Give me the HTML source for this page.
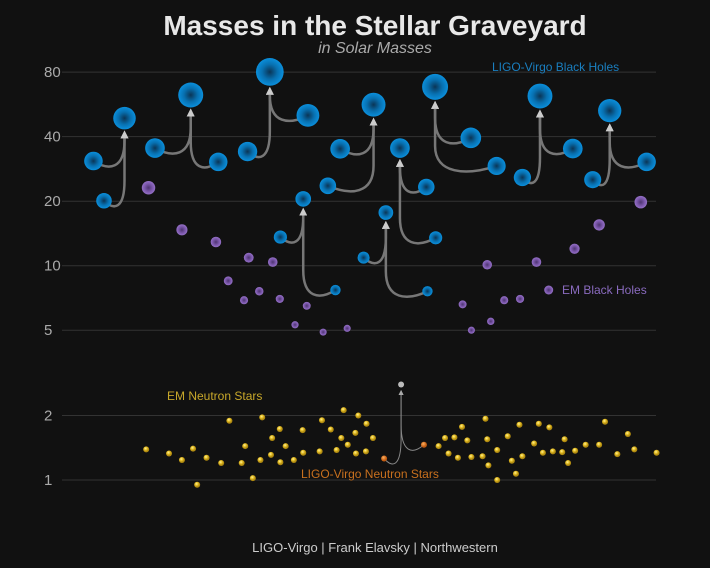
<!DOCTYPE html>
<html><head><meta charset="utf-8"><style>
html,body{margin:0;padding:0;background:#111;}
svg{display:block;font-family:"Liberation Sans",sans-serif;}
</style></head><body>
<svg id="chart" width="710" height="568" viewBox="0 0 710 568">
<defs>
<radialGradient id="gBlue"><stop offset="0" stop-color="#0a3556"/><stop offset="0.55" stop-color="#0870b0"/><stop offset="1" stop-color="#0a8fdc"/></radialGradient>
<radialGradient id="gPurple"><stop offset="0" stop-color="#4d3470"/><stop offset="0.6" stop-color="#7c58ac"/><stop offset="1" stop-color="#9470c6"/></radialGradient>
<radialGradient id="gGold" cx="0.4" cy="0.35"><stop offset="0" stop-color="#fff3a0"/><stop offset="0.5" stop-color="#e8c22a"/><stop offset="1" stop-color="#b08a10"/></radialGradient>
<radialGradient id="gOrange" cx="0.4" cy="0.35"><stop offset="0" stop-color="#ffb060"/><stop offset="1" stop-color="#c05a10"/></radialGradient>
<marker id="arr" markerWidth="8" markerHeight="8" refX="4" refY="4" orient="auto" markerUnits="userSpaceOnUse"><path d="M0,0 L8,4 L0,8 z" fill="#ccc"/></marker>
<marker id="arrS" markerWidth="5" markerHeight="5" refX="2.5" refY="2.5" orient="auto" markerUnits="userSpaceOnUse"><path d="M0,0 L5,2.5 L0,5 z" fill="#aaa"/></marker>
</defs>
<text x="375" y="35" text-anchor="middle" font-size="28" font-weight="bold" fill="#e8e8e8">Masses in the Stellar Graveyard</text>
<text x="375" y="53" text-anchor="middle" font-size="16" font-style="italic" fill="#aaa">in Solar Masses</text>
<g id="grid"></g>
<g id="links"></g>
<g id="marks"></g>
<text x="492" y="71" font-size="12" fill="#1a7fc0">LIGO-Virgo Black Holes</text>
<text x="562" y="294" font-size="12" fill="#8a6bbf">EM Black Holes</text>
<text x="167" y="400" font-size="12" fill="#c8a82a">EM Neutron Stars</text>
<text x="301" y="478" font-size="12" fill="#c8701e">LIGO-Virgo Neutron Stars</text>
<text x="375" y="552" text-anchor="middle" font-size="13" fill="#ccc">LIGO-Virgo | Frank Elavsky | Northwestern</text>
</svg>
<script>
const yTicks = [1, 2, 5, 10, 20, 40, 80];
// LIGO-Virgo black hole mergers: [x, mass] for source1, source2, final
const bhS1X = [4.0, 14.5, 30.3, 46.1, 60.8, 68.4, 77.2, 89.2, 35.9, 50.1];
const bhS1M = [30.8, 35.4, 34.1, 35.1, 23.3, 39.5, 25.8, 25.2, 13.6, 10.9];
const bhS2X = [5.8, 25.3, 40.6, 44.0, 62.4, 72.8, 85.8, 98.4, 45.3, 61.0];
const bhS2M = [20.1, 30.5, 50.3, 23.6, 13.5, 29.2, 35.2, 30.5, 7.7, 7.6];
const bhFX = [9.3, 20.6, 34.1, 51.8, 56.3, 62.3, 80.2, 92.1, 39.8, 53.9];
const bhFM = [48.8, 62.6, 80.2, 56.4, 35.4, 68.3, 61.9, 52.9, 20.5, 17.7];
// EM black holes
const embhX = [13.4, 19.1, 24.9, 30.5, 34.6, 27.0, 32.3, 29.7, 35.8, 40.4, 38.4, 43.2, 47.3, 67.0, 68.5, 71.8, 71.2, 74.1, 76.8, 79.6, 86.1, 90.3, 97.4];
const embhM = [23.1, 14.7, 12.9, 10.9, 10.4, 8.5, 7.6, 6.9, 7.0, 6.5, 5.3, 4.9, 5.1, 6.6, 5.0, 5.5, 10.1, 6.9, 7.0, 10.4, 12.0, 15.5, 19.8];
// EM neutron stars
const emnsX = [13.0,16.9,19.1,21.0,21.7,23.3,25.8,27.2,29.3,29.9,31.2,32.5,32.8,34.3,34.5,35.8,35.9,36.8,38.2,39.7,39.8,42.6,43.0,44.5,45.5,46.3,46.7,47.4,48.7,48.8,49.2,50.5,50.6,51.7,
 62.9,64.0,64.6,65.6,66.2,66.9,67.8,68.5,70.4,70.9,71.2,71.4,72.9,72.9,74.7,75.4,76.1,76.7,77.2,79.2,80.0,80.7,81.8,82.4,84.0,84.4,85.0,86.2,88.0,90.3,91.3,93.4,95.2,96.3,100.1];
const emnsM = [1.39,1.33,1.24,1.40,0.95,1.27,1.20,1.89,1.20,1.44,1.02,1.24,1.96,1.31,1.57,1.73,1.21,1.44,1.24,1.71,1.34,1.36,1.90,1.72,1.38,1.57,2.12,1.46,1.66,1.33,2.00,1.36,1.83,1.57,
 1.44,1.57,1.33,1.58,1.27,1.77,1.53,1.28,1.29,1.93,1.55,1.17,1.38,1.00,1.60,1.23,1.07,1.81,1.29,1.48,1.83,1.34,1.76,1.36,1.35,1.55,1.20,1.37,1.46,1.46,1.87,1.32,1.64,1.39,1.34];
// LIGO-Virgo neutron star merger
const nsSrcX = [53.6, 60.4];
const nsSrcM = [1.26, 1.46];
const nsFinalX = [56.5];
const nsFinalM = [2.79];

const X0 = 70, X1 = 656;
const xs = v => X0 + (X1 - X0) * v / 100;
const ys = m => 480 - 214.3 * Math.log10(m);
const NS = 'http://www.w3.org/2000/svg';
function mk(tag, attrs, parent) {
  const e = document.createElementNS(NS, tag);
  for (const k in attrs) e.setAttribute(k, attrs[k]);
  document.getElementById(parent).appendChild(e);
  return e;
}
const rBlue = m => 2.2 * Math.pow(m, 0.42);
const rPurple = m => 1.8 * Math.pow(m, 0.42);

yTicks.forEach(t => {
  const l = mk('line', {x1: 62, x2: X1, y1: ys(t), y2: ys(t), stroke: '#333', 'stroke-width': 1}, 'grid');
  
  
  const tx = mk('text', {x: 44, y: ys(t) + 5, 'font-size': 15, fill: '#aaa'}, 'grid');
  tx.textContent = t;
  
  
});

function link(sx, sm, fx, fm, rf, marker, width, color) {
  const x1 = xs(sx), y1 = ys(sm), x2 = xs(fx), y2 = ys(fm) + rf + 5;
  const d = `M${x1},${y1} C${(x1 + x2) / 2},${y1 + 10} ${x2},${y1 + 8} ${x2},${Math.max(y2, y1 - 20)} L${x2},${y2}`;
  const p = mk('path', {d, fill: 'none', stroke: color, 'stroke-width': width, 'marker-end': 'url(#' + marker + ')'}, 'links');
  
  
}
bhFX.forEach((fx, i) => {
  const rf = rBlue(bhFM[i]);
  link(bhS1X[i], bhS1M[i], fx, bhFM[i], rf, 'arr', 2.5, '#777');
  link(bhS2X[i], bhS2M[i], fx, bhFM[i], rf, 'arr', 2.5, '#777');
});
nsSrcX.forEach((x, i) => link(x, nsSrcM[i], nsFinalX[0], nsFinalM[0], 3, 'arrS', 1, '#888'));

function dot(x, m, r, fill, name) {
  const c = mk('circle', {cx: xs(x), cy: ys(m), r, fill}, 'marks');
  
  
}
embhX.forEach((x, i) => dot(x, embhM[i], rPurple(embhM[i]), 'url(#gPurple)', 'em-black-hole'));
bhFX.forEach((x, i) => {
  dot(bhS1X[i], bhS1M[i], rBlue(bhS1M[i]), 'url(#gBlue)', 'ligo-black-hole-source');
  dot(bhS2X[i], bhS2M[i], rBlue(bhS2M[i]), 'url(#gBlue)', 'ligo-black-hole-source');
  dot(x, bhFM[i], rBlue(bhFM[i]), 'url(#gBlue)', 'ligo-black-hole-final');
});
emnsX.forEach((x, i) => dot(x, emnsM[i], 3, 'url(#gGold)', 'em-neutron-star'));
nsSrcX.forEach((x, i) => dot(x, nsSrcM[i], 3, 'url(#gOrange)', 'ligo-neutron-star-source'));
dot(nsFinalX[0], nsFinalM[0], 3, '#bbb', 'ligo-neutron-star-final');
// legend dot for EM black holes
const lg = mk('circle', {cx: 548.7, cy: 290, r: 4.5, fill: 'url(#gPurple)'}, 'marks');


</script>
</body></html>
